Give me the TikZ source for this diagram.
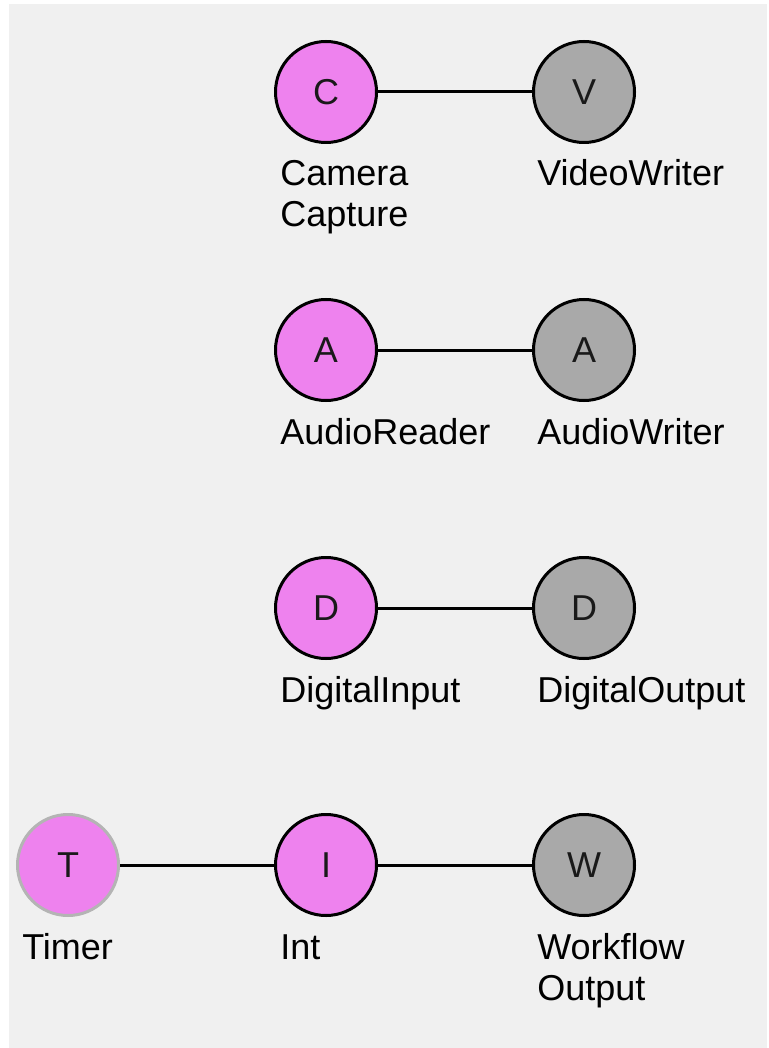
\documentclass[tikz,border=0pt]{standalone}
\usepackage{fontspec}
\setmainfont{Liberation Sans}
\definecolor{bg}{HTML}{F0F0F0}
\definecolor{pinkfill}{HTML}{EE82EE}
\definecolor{grayfill}{HTML}{A9A9A9}
\definecolor{timeredge}{HTML}{B4B4B4}
\begin{document}
\begin{tikzpicture}[x=0.75pt,y=-0.75pt,
  every node/.style={font=\fontsize{27}{30.75}\selectfont},
  opnode/.style={circle,draw=black,line width=2.25pt,minimum size=75.75pt,inner sep=0pt,text=black!90},
  src/.style={opnode,fill=pinkfill},
  sink/.style={opnode,fill=grayfill},
  lab/.style={anchor=base west,inner sep=0pt,align=left,text=black},
  conn/.style={line width=2.25pt,black}]
\fill[white] (0,0) rectangle (768,1048);
\fill[bg] (9,4) rectangle (767,1048);
\useasboundingbox (0,0) rectangle (768,1048);
% row 1
\node[src] (C) at (326,92) {C};
\node[sink] (V) at (584,92) {V};
\node[lab] (Cl) at (280,227) {Camera\\Capture};
\node[lab] (Vl) at (537,186) {VideoWriter};
% row 2
\node[src] (AR) at (326,350) {A};
\node[sink] (AW) at (584,350) {A};
\node[lab] (ARl) at (280,444) {AudioReader};
\node[lab] (AWl) at (537,444) {AudioWriter};
% row 3
\node[src] (DI) at (326,608) {D};
\node[sink] (DO) at (584,608) {D};
\node[lab] (DIl) at (280,702) {DigitalInput};
\node[lab] (DOl) at (537,702) {DigitalOutput};
% row 4
\node[src,draw=timeredge] (T) at (68,865) {T};
\node[src] (I) at (326,865) {I};
\node[sink] (W) at (584,865) {W};
\node[lab] (Tl) at (22,959) {Timer};
\node[lab] (Il) at (280,959) {Int};
\node[lab] (Wl) at (537,1000) {Workflow\\Output};
% connectors
\draw[conn] (C) -- (V);
\draw[conn] (AR) -- (AW);
\draw[conn] (DI) -- (DO);
\draw[conn] (T) -- (I);
\draw[conn] (I) -- (W);
\end{tikzpicture}
\end{document}
